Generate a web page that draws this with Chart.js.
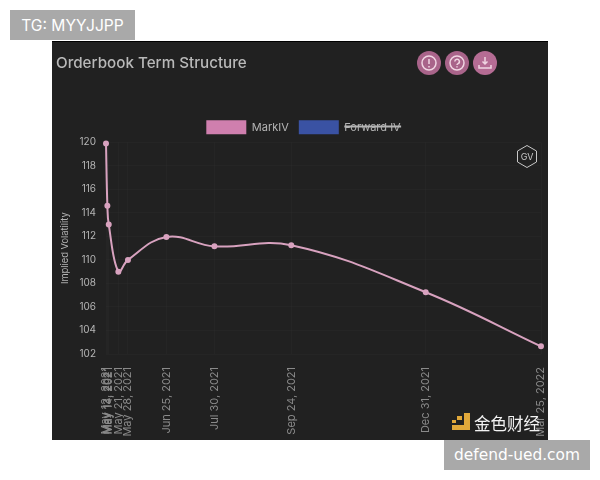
<!DOCTYPE html>
<html>
<head>
<meta charset="utf-8">
<title>Orderbook Term Structure</title>
<script src="https://cdn.jsdelivr.net/npm/chart.js@4/dist/chart.umd.min.js"></script>
<style>
    html, body { margin: 0; padding: 0; width: 600px; height: 480px; background: #fff; overflow: hidden; font-family: Inter, "Liberation Sans", sans-serif; }
    #card { position: absolute; left: 52px; top: 41px; width: 496px; height: 399px; background: #212121; border-top: 1px solid #000; box-sizing: border-box; }
    #chartWrap { position: absolute; left: 52px; top: 41px; width: 496px; height: 399px; }
    .tag { position: absolute; background: #a9a9a9; color: #fff; font-size: 15.6px; display: flex; align-items: center; justify-content: center; }
    #tg { left: 10px; top: 10px; width: 125px; height: 30px; }
    #site { left: 444px; top: 440px; width: 146px; height: 30px; font-family: "DejaVu Sans", sans-serif; font-size: 15.4px; }
    #icons, #gv, #logo { position: absolute; left: 0; top: 0; }
    #brand { position: absolute; left: 474px; top: 412px; color: #f2f2f2; font-family: "Noto Sans CJK SC", sans-serif; font-size: 16.5px; line-height: 22px; }
</style>
</head>
<body>
<div id="card"></div>
<div id="chartWrap"><canvas id="termChart"></canvas></div>
<div class="tag" id="tg">TG: MYYJJPP</div>
<div class="tag" id="site">defend-ued.com</div>

<svg id="icons" width="600" height="480" fill="none" stroke="#f0d5e2" stroke-width="1.5">
    <circle cx="429" cy="63" r="12" fill="#a9648a" stroke="none"/>
    <circle cx="429" cy="63" r="7"/>
    <path d="M429 59v5M429 66v1.500"/>
    <circle cx="457" cy="63" r="12" fill="#a9648a" stroke="none"/>
    <circle cx="457" cy="63" r="7"/>
    <path d="M454.800 61.500a2.300 2.300 0 1 1 3.300 2.100c-.8.4-1.100.8-1.100 1.500M457 66.300v1.200"/>
    <circle cx="485" cy="63" r="12" fill="#b56c94" stroke="none"/>
    <path d="M485 57v7M482.500 61.500l2.500 2.500 2.500-2.500M479 65v3h12v-3"/>
</svg>
<svg id="gv" width="600" height="480">
    <path d="M527 145.500l9.500 5.500v11l-9.500 5.500-9.500-5.500v-11z" fill="none" stroke="#c8c8c8" stroke-width="1"/>
    <text x="527" y="160" text-anchor="middle" font-size="9" font-family="Inter, sans-serif" fill="#c8c8c8">GV</text>
</svg>
<svg id="logo" width="600" height="480">
    <path d="M464 413h6v17h-18v-5h12z" fill="#e0a83a"/>
    <rect x="457" y="416" width="5" height="4" fill="#e0a83a"/>
    <rect x="452" y="420" width="4" height="3" fill="#e0a83a"/>
</svg>
<div id="brand">金色财经</div>

<script>
// data
const expiries = ['May 12, 2021', 'May 13, 2021', 'May 14, 2021', 'May 21, 2021', 'May 28, 2021',
    'Jun 25, 2021', 'Jul 30, 2021', 'Sep 24, 2021', 'Dec 31, 2021', 'Mar 25, 2022'];
const markIV = [119.9, 114.6, 113.0, 109.0, 110.0, 111.95, 111.15, 111.25, 107.25, 102.65];
const forwardIV = [119.9, 109.5, 110.0, 105.5, 111.0, 113.0, 110.6, 111.4, 104.0, 97.5];
const yTicks = [102, 104, 106, 108, 110, 112, 114, 116, 118, 120];

const toDay = s => Math.round(Date.parse(s + ' UTC') / 864e5);
const expiryDays = expiries.map(toDay);
const labelByDay = {};
expiryDays.forEach((d, i) => { labelByDay[d] = expiries[i]; });

const fontName = 'Inter, "Liberation Sans", sans-serif';

// legend sits a little off centre in the original
const nudgeLegend = {
    id: 'nudgeLegend',
    afterLayout(chart) {
        chart.legend.left += 5;
        chart.legend.right += 5;
        chart.legend.top += 2;
        chart.legend.bottom += 2;
    }
};

new Chart(document.getElementById('termChart'), {
    type: 'line',
    plugins: [nudgeLegend],
    data: {
        datasets: [{
            label: 'MarkIV',
            data: expiryDays.map((d, i) => ({ x: d, y: markIV[i] })),
            borderColor: '#d8a2bf',
            backgroundColor: '#cf7fae',
            pointBackgroundColor: '#d8a2bf',
            borderWidth: 2,
            pointRadius: 2,
            tension: 0.4,
            clip: false
        }, {
            label: 'Forward IV',
            data: expiryDays.map((d, i) => ({ x: d, y: forwardIV[i] })),
            borderColor: '#3a52a3',
            backgroundColor: '#3a52a3',
            hidden: true
        }]
    },
    options: {
        responsive: true,
        maintainAspectRatio: false,
        animation: false,
        layout: { padding: { top: 13, right: 7, left: 4, bottom: 0 } },
        plugins: {
            title: {
                display: true,
                text: 'Orderbook Term Structure',
                align: 'start',
                color: '#b9b9b9',
                font: { family: fontName, size: 15.2, weight: '500' },
                padding: { top: 0, bottom: 36 }
            },
            legend: {
                labels: {
                    color: '#b5b5b5',
                    boxWidth: 40,
                    boxHeight: 14,
                    font: { family: fontName, size: 11 },
                    padding: 10,
                    generateLabels: chart => Chart.defaults.plugins.legend.labels.generateLabels(chart)
                        .map(l => ({ ...l, lineWidth: 0 }))
                }
            },
            tooltip: { enabled: false }
        },
        scales: {
            x: {
                type: 'linear',
                min: expiryDays[0],
                max: expiryDays[expiryDays.length - 1],
                afterBuildTicks: axis => { axis.ticks = expiryDays.map(d => ({ value: d })); },
                afterFit: axis => { axis.height = 86; axis.paddingLeft = 0; axis.paddingRight = 0; },
                grid: { color: 'rgba(255,255,255,0.02)', drawTicks: false },
                border: { display: false },
                ticks: {
                    autoSkip: false,
                    minRotation: 90,
                    maxRotation: 90,
                    padding: 13,
                    color: '#8a8a8a',
                    font: { family: fontName, size: 11 },
                    callback: v => labelByDay[v] || ''
                }
            },
            y: {
                min: 102,
                max: 120,
                afterBuildTicks: axis => { axis.ticks = yTicks.map(v => ({ value: v })); },
                afterFit: axis => { axis.width = 50; axis.paddingTop = 0; axis.paddingBottom = 0; },
                grid: { color: 'rgba(255,255,255,0.02)', drawTicks: false },
                border: { display: false },
                title: {
                    display: true,
                    text: 'Implied Volatility',
                    color: '#b5b5b5',
                    font: { family: fontName, size: 9.3 },
                    padding: { top: 4, bottom: 0 }
                },
                ticks: {
                    padding: 10,
                    color: '#b5b5b5',
                    font: { family: fontName, size: 10 }
                }
            }
        }
    }
});
</script>
</body>
</html>
